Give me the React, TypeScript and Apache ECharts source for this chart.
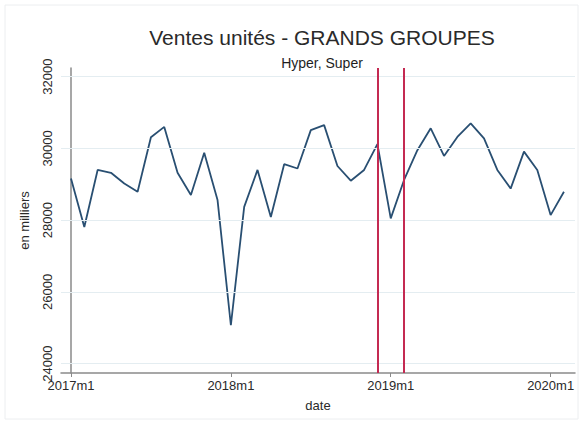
import React, { useEffect, useRef } from "react";
import * as echarts from "echarts";

// Monthly sales, 2017m1 .. 2020m2 (en milliers)
const monthLabels: string[] = [];
for (let y = 2017; y <= 2020; y++) {
  for (let m = 1; m <= 12; m++) monthLabels.push(`${y}m${m}`);
}
const sales = [
  29160, 27810, 29400, 29320, 29020, 28790, 30310, 30600, 29320, 28700, 29880, 28560,
  25070, 28370, 29400, 28090, 29560, 29440, 30510, 30650, 29510, 29100, 29400, 30120,
  28050, 29120, 29950, 30560, 29790, 30320, 30700, 30280, 29400, 28880, 29910, 29400,
  28140, 28790,
];
const xTickMonths = [0, 12, 24, 36];
const yTicks = [24000, 26000, 28000, 30000, 32000];
const eventMonths = [23, 25]; // 2018m12, 2019m2

const TITLE = "Ventes unités - GRANDS GROUPES";
const SUBTITLE = "Hyper, Super";

export default function App() {
  const ref = useRef<HTMLDivElement>(null);
  useEffect(() => {
    if (!ref.current) return;
    const chart = echarts.init(ref.current, null, { renderer: "svg" });
    const font = "'Liberation Sans', Arial, Helvetica, sans-serif";
    const axisColor = "#8a8a8a";
    const textColor = "#2a2a2a";
    const option: any = {
      animation: false,
      backgroundColor: "#ffffff",
      textStyle: { fontFamily: font },
      graphic: [
        {
          type: "rect",
          shape: { x: 5, y: 5, width: 573, height: 414 },
          style: { fill: "none", stroke: "#eceef0", lineWidth: 1 },
          silent: true,
        },
      ],
      title: [
        {
          text: TITLE,
          left: 317,
          top: 22,
          textAlign: "center",
          textStyle: { fontSize: 21, fontWeight: "normal", color: textColor, fontFamily: font },
        },
        {
          text: SUBTITLE,
          left: 317,
          top: 51,
          textAlign: "center",
          textStyle: { fontSize: 14, fontWeight: "normal", color: "#1e1e1e", fontFamily: font },
        },
      ],
      grid: { left: 61, right: 10, top: 68, bottom: 52, containLabel: false },
      xAxis: {
        type: "value",
        min: -0.75,
        max: 37.83,
        name: "date",
        nameLocation: "middle",
        nameGap: 26,
        nameTextStyle: { fontSize: 13, color: textColor, fontFamily: font },
        axisLine: { show: true, lineStyle: { color: axisColor, width: 1.5 } },
        axisTick: { show: true, length: 4, customValues: xTickMonths, lineStyle: { color: axisColor } },
        axisLabel: {
          customValues: xTickMonths,
          formatter: (v: number) => monthLabels[Math.round(v)] ?? "",
          fontSize: 13,
          color: textColor,
          margin: 6,
          fontFamily: font,
        },
        splitLine: { show: false },
      },
      yAxis: {
        type: "value",
        min: 23738,
        max: 32242,
        name: "en milliers",
        nameLocation: "middle",
        nameGap: 30,
        nameTextStyle: { fontSize: 13, color: textColor, fontFamily: font },
        axisLine: { show: true, lineStyle: { color: axisColor, width: 1.5 } },
        axisTick: { show: true, length: 4, customValues: yTicks, lineStyle: { color: axisColor } },
        axisLabel: {
          customValues: yTicks,
          formatter: (v: number) => String(Math.round(v)),
          rotate: 90,
          fontSize: 13,
          color: textColor,
          margin: 7,
          fontFamily: font,
        },
        splitLine: { show: false },
      },
      series: [
        {
          type: "line",
          data: sales.map((v, i) => [i, v]),
          symbol: "none",
          lineStyle: { color: "#294f72", width: 1.8 },
          z: 3,
          markLine: {
            silent: true,
            symbol: "none",
            label: { show: false },
            data: [
              ...yTicks.map((t) => ({
                yAxis: t,
                lineStyle: { color: "#e4edf1", width: 1, type: "solid" },
              })),
              ...eventMonths.map((m) => ({
                xAxis: m,
                lineStyle: { color: "#c42a52", width: 2, type: "solid" },
              })),
            ],
          },
        },
      ],
    };
    chart.setOption(option);
    return () => chart.dispose();
  }, []);
  return (
    <div
      ref={ref}
      style={{ position: "fixed", left: 0, top: 0, width: 585, height: 425 }}
    />
  );
}
